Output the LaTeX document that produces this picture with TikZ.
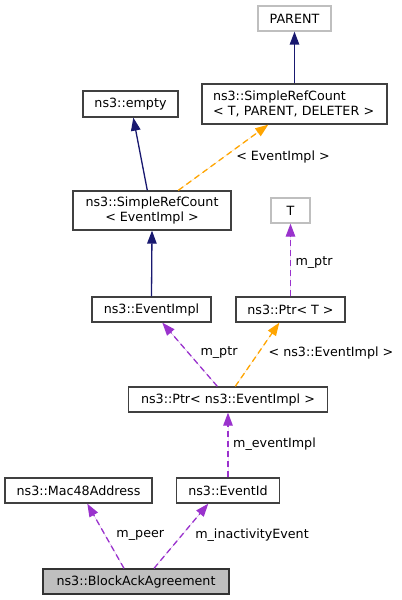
\documentclass[tikz,border=0pt]{standalone}
\usepackage{fontspec}
\setmainfont{DejaVu Sans}
\usetikzlibrary{arrows.meta}
\definecolor{edgeblue}{RGB}{25,25,112}
\definecolor{edgeorange}{RGB}{255,165,0}
\definecolor{edgepurple}{RGB}{154,50,205}
\definecolor{boxgray}{RGB}{191,191,191}
\definecolor{boxline}{RGB}{64,64,64}
\begin{document}
\begin{tikzpicture}[x=1bp,y=-1bp,
  every node/.style={font=\fontsize{12.7bp}{14.4bp}\selectfont, inner sep=0pt},
  box/.style={draw=boxline, line width=1.3bp, fill=white, minimum height=25bp, align=center},
  greybox/.style={box, draw=boxgray},
  tip/.style={-{Triangle[length=13bp,width=9.5bp]}},
  inherit/.style={tip, draw=edgeblue, fill=edgeblue, line width=1.3bp},
  tmpl/.style={tip, draw=edgeorange, fill=edgeorange, line width=1.3bp, dash pattern=on 6bp off 4bp},
  usage/.style={tip, draw=edgepurple, fill=edgepurple, line width=1.3bp, dash pattern=on 6bp off 4bp},
  lbl/.style={text=black, fill=none}
]
\useasboundingbox (0,0) rectangle (401,600);
\fill[white] (0,0) rectangle (401,600);

\node[greybox, minimum width=73bp] (parent) at (294.5,18.5) {PARENT};
\node[box, minimum width=185bp, minimum height=40bp, text width=163bp, align=left] (srctpd) at (294.5,104) {ns3::SimpleRefCount\\< T, PARENT, DELETER >};
\node[box, minimum width=95bp, minimum height=26bp] (empty) at (130.5,104) {ns3::empty};
\node[box, minimum width=158bp, minimum height=39bp] (srce) at (152,210.5) {ns3::SimpleRefCount\\< EventImpl >};
\node[greybox, minimum width=39bp] (t) at (290.5,210.5) {T};
\node[box, minimum width=119bp] (eventimpl) at (151.5,309.5) {ns3::EventImpl};
\node[box, minimum width=109bp] (ptrt) at (290.5,309.5) {ns3::Ptr< T >};
\node[box, minimum width=199bp] (ptre) at (228,399.5) {ns3::Ptr< ns3::EventImpl >};
\node[box, minimum width=147bp] (mac) at (78.5,490.5) {ns3::Mac48Address};
\node[box, minimum width=103bp] (eventid) at (228,490.5) {ns3::EventId};
\node[box, fill=boxgray, draw=black!80, minimum width=186bp] (baa) at (136,581.5) {ns3::BlockAckAgreement};

\draw[inherit] (srctpd.north) -- (parent.south);
\draw[inherit] ([xshift=-4.7bp]srce.north) -- ([xshift=2.8bp]empty.south);
\draw[tmpl] ([xshift=26.3bp]srce.north) -- ([xshift=-26.2bp]srctpd.south);
\node[lbl] (l1) at (283,157) {< EventImpl >};
\draw[inherit] (eventimpl.north) -- (srce.south);
\draw[usage] (ptrt.north) -- (t.south);
\node[lbl] (l2) at (314,263) {m\_ptr};
\draw[usage] ([xshift=-10.7bp]ptre.north) -- ([xshift=10.8bp]eventimpl.south);
\node[lbl] (l3) at (219,353) {m\_ptr};
\draw[tmpl] ([xshift=7.3bp]ptre.north) -- ([xshift=-11.2bp]ptrt.south);
\node[lbl] (l4) at (331,353) {< ns3::EventImpl >};
\draw[usage] (eventid.north) -- (ptre.south);
\node[lbl] (l5) at (274.5,444.5) {m\_eventImpl};
\draw[usage] ([xshift=-12bp]baa.north) -- ([xshift=8.8bp]mac.south);
\node[lbl] (l6) at (140.3,535) {m\_peer};
\draw[usage] ([xshift=18bp]baa.north) -- ([xshift=-19.7bp]eventid.south);
\node[lbl] (l7) at (252,535) {m\_inactivityEvent};
\end{tikzpicture}
\end{document}
